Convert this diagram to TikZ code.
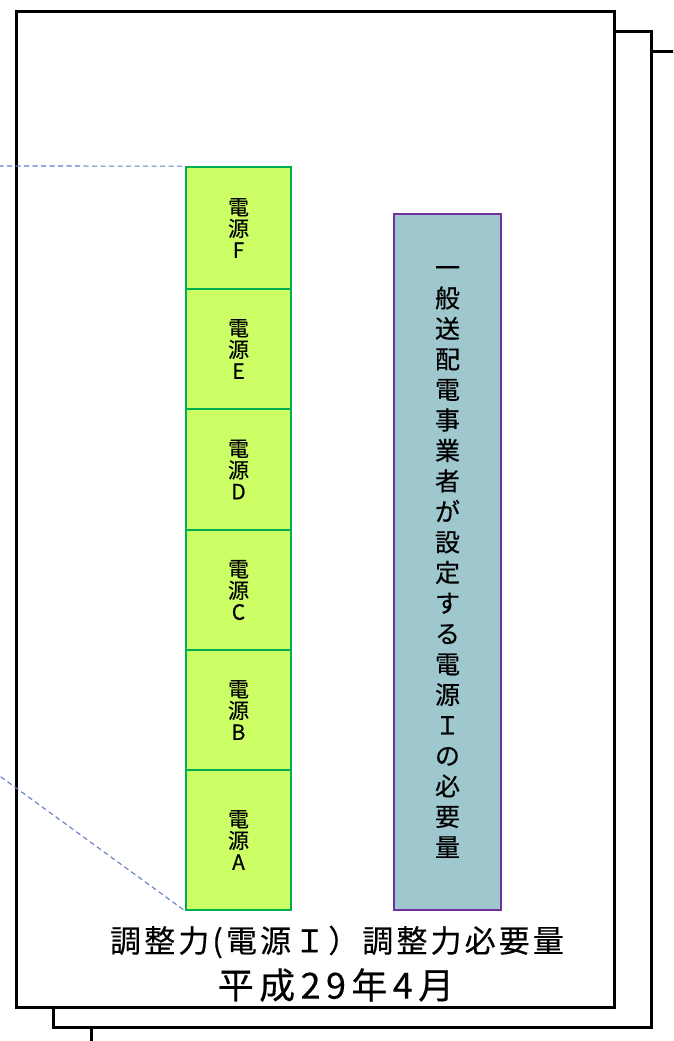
\documentclass[tikz,border=0pt]{standalone}
\usepackage{fontspec}
\setmainfont{Noto Sans CJK JP}[FakeBold=0.35]
\definecolor{srcfill}{RGB}{204,255,102}
\definecolor{srcborder}{RGB}{0,176,80}
\definecolor{reqfill}{RGB}{159,199,206}
\definecolor{reqborder}{RGB}{112,48,160}
\definecolor{dashblue}{RGB}{100,125,195}
\begin{document}
\begin{tikzpicture}[x=1pt,y=-1pt,
  frame/.style={draw=black,line width=3pt,fill=white},
  src/.style={draw=srcborder,fill=srcfill,line width=1.8pt,minimum width=105pt,inner sep=0pt,align=center,font=\fontsize{21}{21.5}\selectfont},
  req/.style={draw=reqborder,fill=reqfill,line width=1.8pt,minimum width=107pt,minimum height=696pt,inner sep=0pt,align=center,font=\fontsize{25}{30.5}\selectfont},
  guide/.style={draw=dashblue,line width=1.1pt,dash pattern=on 5pt off 3.5pt},
  caption/.style={inner sep=0pt,align=center}]
\useasboundingbox (0,0) rectangle (673,1041);
\clip (0,0) rectangle (673,1041);
% stacked frames
\path[frame] (91,52) rectangle (720,1100);
\path[frame] (53,32) rectangle (651,1027);
\path[frame] (16,12) rectangle (614,1007);
% source column
\node[src,minimum height=122pt] (F) at (238.5,228) {電\\源\\F};
\node[src,minimum height=120pt] (E) at (238.5,349) {電\\源\\E};
\node[src,minimum height=121pt] (D) at (238.5,469.5) {電\\源\\D};
\node[src,minimum height=120pt] (C) at (238.5,590) {電\\源\\C};
\node[src,minimum height=120pt] (B) at (238.5,710) {電\\源\\B};
\node[src,minimum height=140pt] (A) at (238.5,840) {電\\源\\A};
% requirement column
\node[req] (R) at (447.5,562) {一\\般\\送\\配\\電\\事\\業\\者\\が\\設\\定\\す\\る\\電\\源\\Ｉ\\の\\必\\要\\量};
% dashed guide lines
\coordinate (g1) at (-10,166);
\coordinate (g2) at (-20,761.7);
\draw[guide] (g1) -- (F.north west);
\draw[guide] (g2) -- (A.south west);
% captions
\node[caption,font=\fontsize{31}{34}\selectfont\addfontfeature{LetterSpace=10}] (t1) at (337,942) {調整力(電源Ｉ）調整力必要量};
\node[caption,font=\fontsize{36}{40}\selectfont\addfontfeature{LetterSpace=15}] (t2) at (336,985) {平成29年4月};
\end{tikzpicture}
\end{document}
